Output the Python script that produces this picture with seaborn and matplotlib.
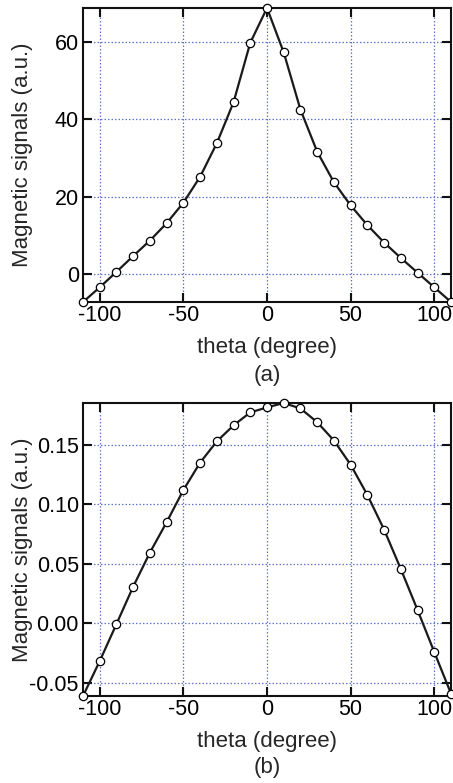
import numpy as np
import pandas as pd
import matplotlib
matplotlib.use("Agg")
import matplotlib.pyplot as plt
import seaborn as sns

# angles (degree)
theta = [-110, -100, -90, -80, -70, -60, -50, -40, -30, -20, -10, 0,
         10, 20, 30, 40, 50, 60, 70, 80, 90, 100, 110]

# panel (a)
signal_a = [-7.3, -3.5, 0.5, 4.6, 8.6, 13.1, 18.4, 25.1, 33.8, 44.4, 59.8, 68.8,
            57.3, 42.5, 31.6, 23.7, 17.7, 12.6, 8.1, 4.1, 0.3, -3.5, -7.3]

# panel (b)
signal_b = [-0.061, -0.0317, -0.0006, 0.0308, 0.0594, 0.0849, 0.1119, 0.1349,
            0.1528, 0.1662, 0.1771, 0.1813, 0.185, 0.1804, 0.1689, 0.1535,
            0.1332, 0.1078, 0.0787, 0.0456, 0.0112, -0.0241, -0.059]

xticks = [-100, -50, 0, 50, 100]
yticks_a = [0, 20, 40, 60]
yticks_b = [-0.05, 0.00, 0.05, 0.10, 0.15]
ytick_labels_b = ["-0.05", "0.00", "0.05", "0.10", "0.15"]

sns.set_style("ticks")
plt.rcParams['font.family'] = ['Liberation Sans', 'DejaVu Sans']

fig = plt.figure(figsize=(4.53, 7.83), dpi=100)
ax_a = fig.add_axes([83/453, 1 - 302/783, 368/453, 294/783])
ax_b = fig.add_axes([83/453, 1 - 696/783, 368/453, 293/783])

grid_color = "#6275cc"


def draw_panel(ax, y, yticks, ylabels, tag, tag_y):
    df = pd.DataFrame({"theta": theta, "signal": y})
    sns.lineplot(data=df, x="theta", y="signal", ax=ax, color="#1a1a1a",
                 linewidth=1.6, marker="o", markersize=6,
                 markerfacecolor="white", markeredgecolor="black",
                 markeredgewidth=0.9, clip_on=False, zorder=5)
    ax.set_xlim(min(theta), max(theta))
    ax.set_ylim(min(y), max(y))
    ax.set_xticks(xticks)
    ax.set_xticklabels([str(t) for t in xticks])
    ax.set_yticks(yticks)
    ax.set_yticklabels(ylabels)
    ax.grid(True, color=grid_color, linestyle=(0, (1.2, 1.6)), linewidth=0.9)
    for s in ax.spines.values():
        s.set_visible(True)
        s.set_linewidth(1.5)
        s.set_color("#111111")
    ax.tick_params(direction="in", length=6.5, width=1.5, top=True, right=True,
                   labelsize=15.5, pad=3, colors="#111111")
    ax.tick_params(axis="x", labelcolor="black", pad=2)
    ax.tick_params(axis="y", labelcolor="black")
    ax.set_xlabel("theta (degree)", fontsize=16, labelpad=8)
    ax.set_ylabel("Magnetic signals (a.u.)", fontsize=16)
    ax.yaxis.set_label_coords(-0.137, 0.5)
    fig.text(267/453, 1 - tag_y/783, tag, ha="center", va="center", fontsize=16)


draw_panel(ax_a, signal_a, yticks_a, [str(t) for t in yticks_a], "(a)", 375)
draw_panel(ax_b, signal_b, yticks_b, ytick_labels_b, "(b)", 767)

fig.savefig("out.png", dpi=100)
